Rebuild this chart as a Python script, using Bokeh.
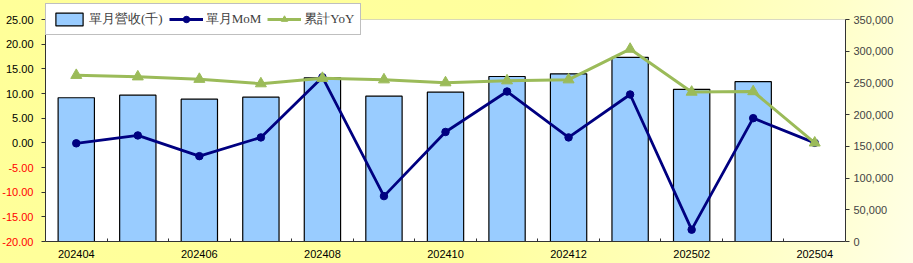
import numpy as np
from bokeh.plotting import figure
from bokeh.models import (Range1d, LinearAxis, FixedTicker, CustomJSTickFormatter,
                          NumeralTickFormatter, ColumnDataSource, Legend, LegendItem,
                          BoxAnnotation)
from bokeh.embed import file_html
from bokeh.resources import INLINE

months = ["202404", "202405", "202406", "202407", "202408", "202409", "202410",
          "202411", "202412", "202501", "202502", "202503", "202504"]
revenue = [226600, 230700, 224400, 227500, 258000, 229100, 235400,
           260100, 264300, 290300, 239900, 252000, float("nan")]
mom = [-0.1, 1.5, -2.7, 1.1, 13.3, -10.8, 2.2, 10.4, 1.1, 9.8, -17.6, 5.0, 0.0]
yoy = [13.7, 13.4, 12.9, 12.0, 13.1, 12.8, 12.2, 12.6, 12.8, 19.0, 10.3, 10.4, 0.0]

pos_ticks = [25, 20, 15, 10, 5, 0]
neg_ticks = [-5, -10, -15, -20]
left_min, left_max = -20, 25
right_ticks = [0, 50000, 100000, 150000, 200000, 250000, 300000, 350000]
right_min, right_max = 0, 350000
legend_labels = ["單月營收(千)", "單月MoM", "累計YoY"]

n = len(months)
xc = np.arange(n) + 0.5

# layout (pixels)
W, H = 913, 263
pad_left, pad_top, pad_bottom = 45, 19, 22   # plot area offset inside the frame
border_right = 68
frame_w = W - border_right
frame_h = H
area_w = frame_w - pad_left
area_h = frame_h - pad_top - pad_bottom

x_start = -pad_left * n / area_w
lspan = (left_max - left_min) / area_h
rspan = (right_max - right_min) / area_h

p = figure(width=W, height=H, output_backend="svg", toolbar_location=None,
           x_range=Range1d(x_start, n),
           y_range=Range1d(left_min - pad_bottom * lspan, left_max + pad_top * lspan),
           x_axis_location=None, y_axis_location=None,
           min_border_left=0, min_border_right=border_right,
           min_border_top=0, min_border_bottom=0)
p.extra_y_ranges = {"rev": Range1d(right_min - pad_bottom * rspan, right_max + pad_top * rspan)}
p.border_fill_alpha = 0
p.background_fill_alpha = 0
p.styles = {"background": "linear-gradient(105deg, #FFFF99 0%, #FFFF9E 55%, #FFFFC8 85%, #FFFFE6 100%)"}
p.outline_line_color = None
p.xgrid.visible = False
p.ygrid.visible = False

# white plot area
p.add_layout(BoxAnnotation(left=0, right=n, bottom=left_min, top=left_max,
                           fill_color="white", fill_alpha=1,
                           line_color="#808080", line_width=1, level="underlay"))

lab_font = "Liberation Sans"

# x axis fixed at the bottom of the plot area
from bokeh.models import LinearAxis as _LA
xa = _LA(fixed_location=left_min, bounds=(0, n))
xa.ticker = FixedTicker(ticks=list(xc[::2]), minor_ticks=list(np.arange(1, n)))
xa.formatter = CustomJSTickFormatter(args=dict(labels=months),
                                     code="return labels[Math.floor(tick)] || '';")
xa.major_tick_in = 0
xa.major_tick_out = 0
xa.minor_tick_in = 3
xa.minor_tick_out = 0
xa.axis_line_color = "#333333"
xa.minor_tick_line_color = "#333333"
xa.major_label_text_font = lab_font
xa.major_label_text_font_size = "11px"
xa.major_label_text_color = "black"
xa.major_label_standoff = 8
p.add_layout(xa, "below")

# left axes (fixed at x=0): positive labels black, negative labels red
ya = LinearAxis(ticker=FixedTicker(ticks=pos_ticks), fixed_location=0,
                bounds=(left_min, left_max),
                formatter=NumeralTickFormatter(format="0.00"))
yb = LinearAxis(ticker=FixedTicker(ticks=neg_ticks), fixed_location=0,
                bounds=(left_min, left_max),
                formatter=NumeralTickFormatter(format="0.00"))
for ax, col in ((ya, "black"), (yb, "red")):
    ax.major_tick_out = 4
    ax.major_tick_in = 0
    ax.minor_tick_line_color = None
    ax.major_tick_line_color = "#333333"
    ax.major_label_text_font = lab_font
    ax.major_label_text_font_size = "11px"
    ax.major_label_text_color = col
    ax.major_label_standoff = 8
ya.axis_line_color = "#333333"
yb.axis_line_color = None
p.add_layout(ya, "left")
p.add_layout(yb, "left")

# right axis
ra = LinearAxis(y_range_name="rev", ticker=FixedTicker(ticks=right_ticks),
                bounds=(right_min, right_max),
                formatter=NumeralTickFormatter(format="0,0"))
ra.major_tick_out = 4
ra.major_tick_in = 0
ra.minor_tick_line_color = None
ra.axis_line_color = "#333333"
ra.major_tick_line_color = "#333333"
ra.major_label_text_font = lab_font
ra.major_label_text_font_size = "11px"
ra.major_label_standoff = 4
p.add_layout(ra, "right")

src = ColumnDataSource(dict(x=xc, rev=revenue, mom=mom, yoy=yoy))
bars = p.vbar(x="x", top="rev", bottom=0, width=0.59, source=src, y_range_name="rev",
              fill_color="#99CCFF", line_color="black", line_width=1.2)
ml = p.line("x", "mom", source=src, line_color="#000080", line_width=2.8)
mc = p.scatter("x", "mom", source=src, marker="circle", size=7.5,
               fill_color="#000080", line_color="#000080")
yl = p.line("x", "yoy", source=src, line_color="#9BBB59", line_width=3)
yt = p.scatter("x", "yoy", source=src, marker="triangle", size=11,
               fill_color="#9BBB59", line_color="#9BBB59")

legend = Legend(items=[LegendItem(label=legend_labels[0], renderers=[bars]),
                       LegendItem(label=legend_labels[1], renderers=[ml, mc]),
                       LegendItem(label=legend_labels[2], renderers=[yl, yt])],
                orientation="horizontal", location=(pad_left, frame_h - 35),
                border_line_color="#808080", border_line_width=1,
                background_fill_color="white", background_fill_alpha=1,
                padding=6, spacing=6, margin=0, glyph_width=34, glyph_height=16,
                label_standoff=3, label_text_font="Liberation Serif",
                label_text_font_size="13px", label_text_color="#404040")
p.add_layout(legend, "center")

open("out.html", "w").write(file_html(p, INLINE))
